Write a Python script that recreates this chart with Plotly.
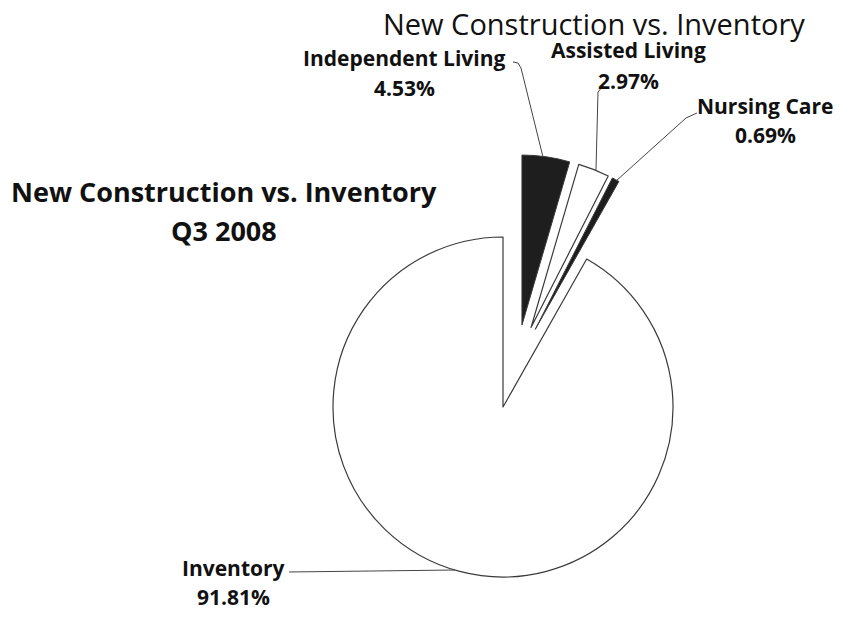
import plotly.graph_objects as go

# ---- data ----
categories = ["Independent Living", "Assisted Living", "Nursing Care", "Inventory"]
shares = [4.53, 2.97, 0.69, 91.81]
chart_title = "New Construction vs. Inventory"
side_title = ["New Construction vs. Inventory", "Q3 2008"]

OFF = 8  # page body margin
W, H = 843 - 2 * OFF, 619 - 2 * OFF
FONT = "Open Sans"


def px(x):
    return (x - OFF) / W


def py(y):
    return 1 - (y - OFF) / H


def dom(cx, cy, half):
    return dict(x=[px(cx - half), px(cx + half)],
                y=[py(cy + half), py(cy - half)])


R = 170
PULL = 0.235
dark = "#1e1e1e"
edge = "#3a3a3a"

# Inventory (main body)
fillA = ["rgba(0,0,0,0)"] * 3 + ["white"]
lwA = [0, 0, 0, 1.2]
pieA = go.Pie(
    labels=categories, values=shares, sort=False, direction="clockwise", rotation=0,
    marker=dict(colors=fillA, line=dict(color=edge, width=lwA)),
    textinfo="none", hoverinfo="skip", showlegend=False,
    domain=dom(503, 407, R),
)

# exploded new-construction slices
fillB = [dark, "white", dark, "rgba(0,0,0,0)"]
lwB = [1, 1.2, 1, 0]
pieB = go.Pie(
    labels=categories, values=shares, sort=False, direction="clockwise", rotation=0,
    pull=[PULL, PULL, PULL, 0],
    marker=dict(colors=fillB, line=dict(color=edge, width=lwB)),
    textinfo="none", hoverinfo="label+percent", showlegend=False,
    domain=dom(516.3, 364.6, R * (1 + PULL)),
)

fig = go.Figure([pieA, pieB])

ann = []


def text(x, y, s, size, bold=True, color="#111"):
    ann.append(dict(x=px(x), y=py(y), xref="paper", yref="paper", text=(f"<b>{s}</b>" if bold else s),
                    showarrow=False, xanchor="center", yanchor="middle",
                    font=dict(family=FONT, size=size, color=color)))


# titles
text(594, 24, chart_title, 29, bold=False)
text(224, 191, side_title[0], 27)
text(224, 230, side_title[1], 27)

# slice labels
label_pos = {
    "Independent Living": (404, 58, 88),
    "Assisted Living": (628, 50, 81),
    "Nursing Care": (765, 106, 135),
    "Inventory": (233, 568, 597),
}
for c, v in zip(categories, shares):
    x, y1, y2 = label_pos[c]
    text(x, y1, c, 21)
    text(x, y2, f"{v:.2f}%", 21)


def path(pts):
    return "M " + " L ".join(f"{px(x):.5f},{py(y):.5f}" for x, y in pts)


leaders = [
    [(513, 62), (518, 63), (521, 68), (543, 157)],
    [(603, 86), (598, 92), (596, 170)],
    [(697, 113), (686, 118), (616, 181)],
    [(289, 572), (455, 570)],
]
shapes = [dict(type="path", path=path(p), xref="paper", yref="paper",
               line=dict(color="#444", width=1)) for p in leaders]

fig.update_layout(
    width=W, height=H, margin=dict(l=0, r=0, t=0, b=0),
    paper_bgcolor="white", plot_bgcolor="white",
    annotations=ann, shapes=shapes, showlegend=False,
)

fig.write_html("out.html")
